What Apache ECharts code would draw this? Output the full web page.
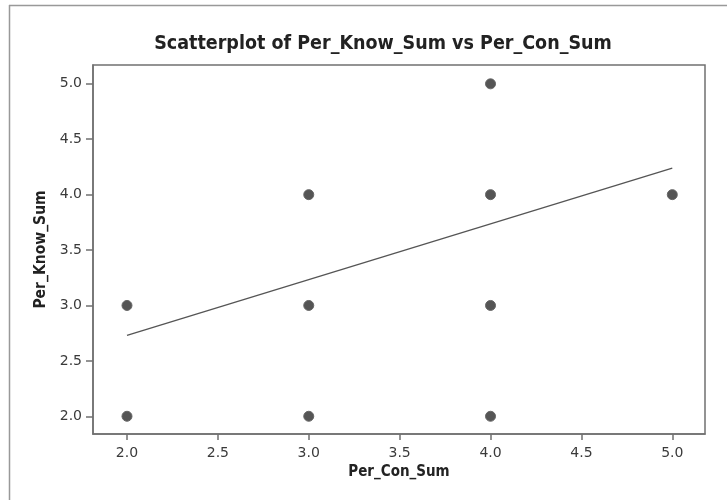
<!DOCTYPE html>
<html>
<head>
<meta charset="utf-8">
<script src="https://cdn.jsdelivr.net/npm/echarts@6/dist/echarts.min.js"></script>
<style>
  html, body { margin:0; padding:0; background:#fff; }
  #chart { width:727px; height:500px; }
</style>
</head>
<body>
<div id="chart"></div>
<script type="text/javascript">
// observed points
var conSum  = [2, 2, 3, 3, 3, 4, 4, 4, 4, 5];
var knowSum = [2, 3, 2, 3, 4, 2, 3, 4, 5, 4];
// fitted line ends
var fitX = [2, 5];
var fitY = [2.73, 4.24];
// tick labels
var xTicks = [2.0, 2.5, 3.0, 3.5, 4.0, 4.5, 5.0];
var yTicks = [2.0, 2.5, 3.0, 3.5, 4.0, 4.5, 5.0];

var font = "'DejaVu Sans Condensed', 'DejaVu Sans', sans-serif";
var tickFont = "'DejaVu Sans', sans-serif";
var axisCol = '#707070';

var pts = [];
for (var i = 0; i < conSum.length; i++) {
  pts.push([conSum[i], knowSum[i]]);
}
var fit = [];
for (var j = 0; j < fitX.length; j++) {
  fit.push([fitX[j], fitY[j]]);
}

var myChart = echarts.init(document.getElementById('chart'));
var option = {
  backgroundColor: '#fff',
  animation: false,
  title: {
    text: 'Scatterplot of Per_Know_Sum vs Per_Con_Sum',
    left: 378,
    top: 29,
    textAlign: 'center',
    textStyle: { fontFamily: font, fontSize: 19.5, fontWeight: 'bold', color: '#222' }
  },
  graphic: [
    { type: 'line', shape: { x1: 9, y1: 5.5, x2: 727, y2: 5.5 }, style: { stroke: '#999', lineWidth: 1.5 } },
    { type: 'line', shape: { x1: 9.5, y1: 5, x2: 9.5, y2: 500 }, style: { stroke: '#999', lineWidth: 1.5 } }
  ],
  grid: {
    left: 93, right: 22, top: 65, bottom: 66,
    show: true, borderColor: axisCol, borderWidth: 1.5, backgroundColor: '#fff'
  },
  xAxis: {
    type: 'value',
    min: 1.813, max: 5.18,
    name: 'Per_Con_Sum',
    nameLocation: 'middle',
    nameGap: 31,
    nameTextStyle: { fontFamily: font, fontSize: 15, fontWeight: 'bold', color: '#222' },
    axisLine: { show: true, lineStyle: { color: axisCol, width: 1.5 } },
    axisTick: { show: true, length: 6, customValues: xTicks, lineStyle: { color: axisCol, width: 1.5 } },
    axisLabel: {
      customValues: xTicks, margin: 12,
      fontFamily: tickFont, fontSize: 14, color: '#3a3a3a',
      formatter: function (v) { return v.toFixed(1); }
    },
    splitLine: { show: false }
  },
  yAxis: {
    type: 'value',
    min: 1.84, max: 5.17,
    name: 'Per_Know_Sum',
    nameLocation: 'middle',
    nameGap: 43,
    nameTextStyle: { fontFamily: font, fontSize: 15.5, fontWeight: 'bold', color: '#222' },
    axisLine: { show: true, lineStyle: { color: axisCol, width: 1.5 } },
    axisTick: { show: true, length: 7, customValues: yTicks, lineStyle: { color: axisCol, width: 1.5 } },
    axisLabel: {
      customValues: yTicks, margin: 11,
      fontFamily: tickFont, fontSize: 14, color: '#3a3a3a',
      formatter: function (v) { return v.toFixed(1); }
    },
    splitLine: { show: false }
  },
  series: [
    {
      name: 'fit',
      type: 'line',
      data: fit,
      symbol: 'none',
      lineStyle: { color: '#555', width: 1.3 },
      z: 2
    },
    {
      name: 'points',
      type: 'scatter',
      data: pts,
      symbol: 'circle',
      symbolSize: 10,
      itemStyle: { color: '#555', borderColor: '#666', borderWidth: 1, opacity: 1 },
      z: 3
    }
  ]
};
myChart.setOption(option);
</script>
</body>
</html>
